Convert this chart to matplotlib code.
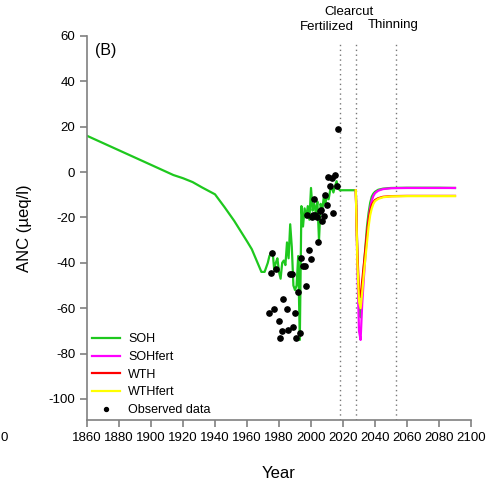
import matplotlib.pyplot as plt

plt.rcParams['font.family'] = ['Liberation Sans', 'DejaVu Sans']
plt.rcParams['axes.unicode_minus'] = False

# SOH simulated ANC, hindcast (green)
soh_year = [1860, 1880, 1900, 1914, 1920, 1926, 1932, 1940, 1946, 1952, 1956,
            1960, 1963, 1966, 1969, 1971] + list(range(1972, 2019))
soh_anc = [16, 9.6, 3.2, -1.3, -2.7, -4.4, -6.8, -9.8, -15.5, -21.5, -26,
           -30.5, -34, -39, -44, -44,
           -42, -40, -37, -36, -35, -43, -40, -38, -44, -47,
           -40, -39, -41, -31, -38, -23, -33, -50, -52, -50,
           -37, -74, -15, -24, -16, -20, -15, -21, -7, -17,
           -14, -18, -13, -30, -14, -17, -11, -14, -10, -12,
           -8, -6.5, -9, -6.2, -4, -7, -8]

# scenarios after the clearcut
fut_year = [2028, 2029, 2030, 2031, 2032, 2033, 2034, 2035, 2036, 2037, 2038,
            2039, 2040, 2042, 2045, 2050, 2060, 2070, 2080, 2090]
soh_fut = [-8, -38, -60, -64, -52, -42, -33, -24, -18, -13.5, -10.8,
           -9.5, -8.7, -7.8, -7.3, -7.0, -6.9, -6.9, -6.9, -7.0]
sohfert_fut = [-8, -42, -70, -74, -58, -47, -37, -28, -21, -16, -12.5,
               -10.5, -9.3, -8.2, -7.5, -7.1, -7.0, -7.0, -7.0, -7.0]
wth_fut = [-8, -36, -52, -55, -48, -41, -34, -27, -21, -17, -14.5,
           -13.2, -12.3, -11.5, -10.9, -10.6, -10.5, -10.5, -10.5, -10.5]
wthfert_fut = [-8, -40, -57, -60, -53, -45, -38, -31, -24, -19, -16,
               -14, -12.8, -11.8, -11.1, -10.7, -10.6, -10.6, -10.6, -10.6]

# observed ANC
obs_year = [1974.0, 1974.8, 1975.8, 1976.9, 1978.1, 1979.8, 1980.6, 1981.9, 1982.7,
            1984.8, 1985.8, 1986.9, 1988.1, 1988.9, 1990.0, 1990.8, 1991.9, 1992.9,
            1994.0, 1995.2, 1996.2, 1996.9, 1997.7, 1999.0, 1999.8, 2000.4, 2001.0,
            2001.9, 2002.5, 2003.9, 2004.6, 2005.6, 2006.0, 2006.7, 2008.1, 2008.75,
            2009.8, 2010.8, 2011.9, 2012.9, 2014.0, 2015.0, 2016.0, 2016.7]
obs_anc = [-62, -44.5, -35.5, -60.4, -42.9, -65.8, -73.3, -69.9, -56,
           -60.5, -69.6, -44.8, -44.8, -68.1, -62, -73.3, -52.7, -71.1,
           -38, -41.4, -41.3, -50.1, -18.9, -34.4, -38.3, -19.7, -18.9,
           -11.7, -18.9, -20, -30.7, -17, -16.7, -21.5, -19.4, -10.1,
           -14.5, -2.0, -6.2, -2.8, -18.2, -1.3, -6.2, 19]

events = [2018, 2028, 2053]

fig = plt.figure(figsize=(4.92, 4.83), dpi=100)
ax = fig.add_axes([87/492, 1-420/483, 384/492, 384/483])

ax.vlines(events, -109.3, 58, colors='#777777', linestyles=(0, (1, 2.5)), lw=1)

ax.plot(soh_year + fut_year, soh_anc + soh_fut, color='#1ec81e', lw=1.6, label='SOH')
ax.plot(fut_year, sohfert_fut, color='#ff00ff', lw=1.6, label='SOHfert')
ax.plot(fut_year, wth_fut, color='#ff0000', lw=1.6, label='WTH')
ax.plot(fut_year, wthfert_fut, color='#ffff00', lw=1.6, label='WTHfert')
ax.plot(obs_year, obs_anc, 'o', color='black', ms=3.8, ls='none', label='Observed data')

ax.set_xlim(1860, 2100)
ax.set_ylim(-109.3, 60)
ax.set_xticks(range(1860, 2101, 20))
ax.set_yticks(range(-100, 61, 20))
for s in ['top', 'right']:
    ax.spines[s].set_visible(False)
for s in ['left', 'bottom']:
    ax.spines[s].set_color('#808080')
    ax.spines[s].set_linewidth(1.2)
ax.tick_params(colors='#808080', labelcolor='black', length=5, width=1.2,
               labelsize=9.5, direction='out')

ax.set_xlabel('Year', fontsize=12, labelpad=16)
ax.set_ylabel('ANC (µeq/l)', fontsize=12, labelpad=12)

ax.text(1865, 57, '(B)', fontsize=11.5, va='top', ha='left')
ax.text(2024, 70.5, 'Clearcut', fontsize=9.5, ha='center', va='center', clip_on=False)
ax.text(2010, 64, 'Fertilized', fontsize=9.5, ha='center', va='center', clip_on=False)
ax.text(2051.5, 65, 'Thinning', fontsize=9.5, ha='center', va='center', clip_on=False)

ax.legend(loc='lower left', bbox_to_anchor=(92/492, 1-416/483),
          bbox_transform=fig.transFigure, frameon=False, fontsize=9,
          handlelength=2.2, handletextpad=0.7, labelspacing=0.45,
          borderpad=0, borderaxespad=0, markerscale=0.75)

fig.text(0.001, 1-438/483, '0', fontsize=9.5, ha='left', va='center')

fig.savefig('out.png', dpi=100)
